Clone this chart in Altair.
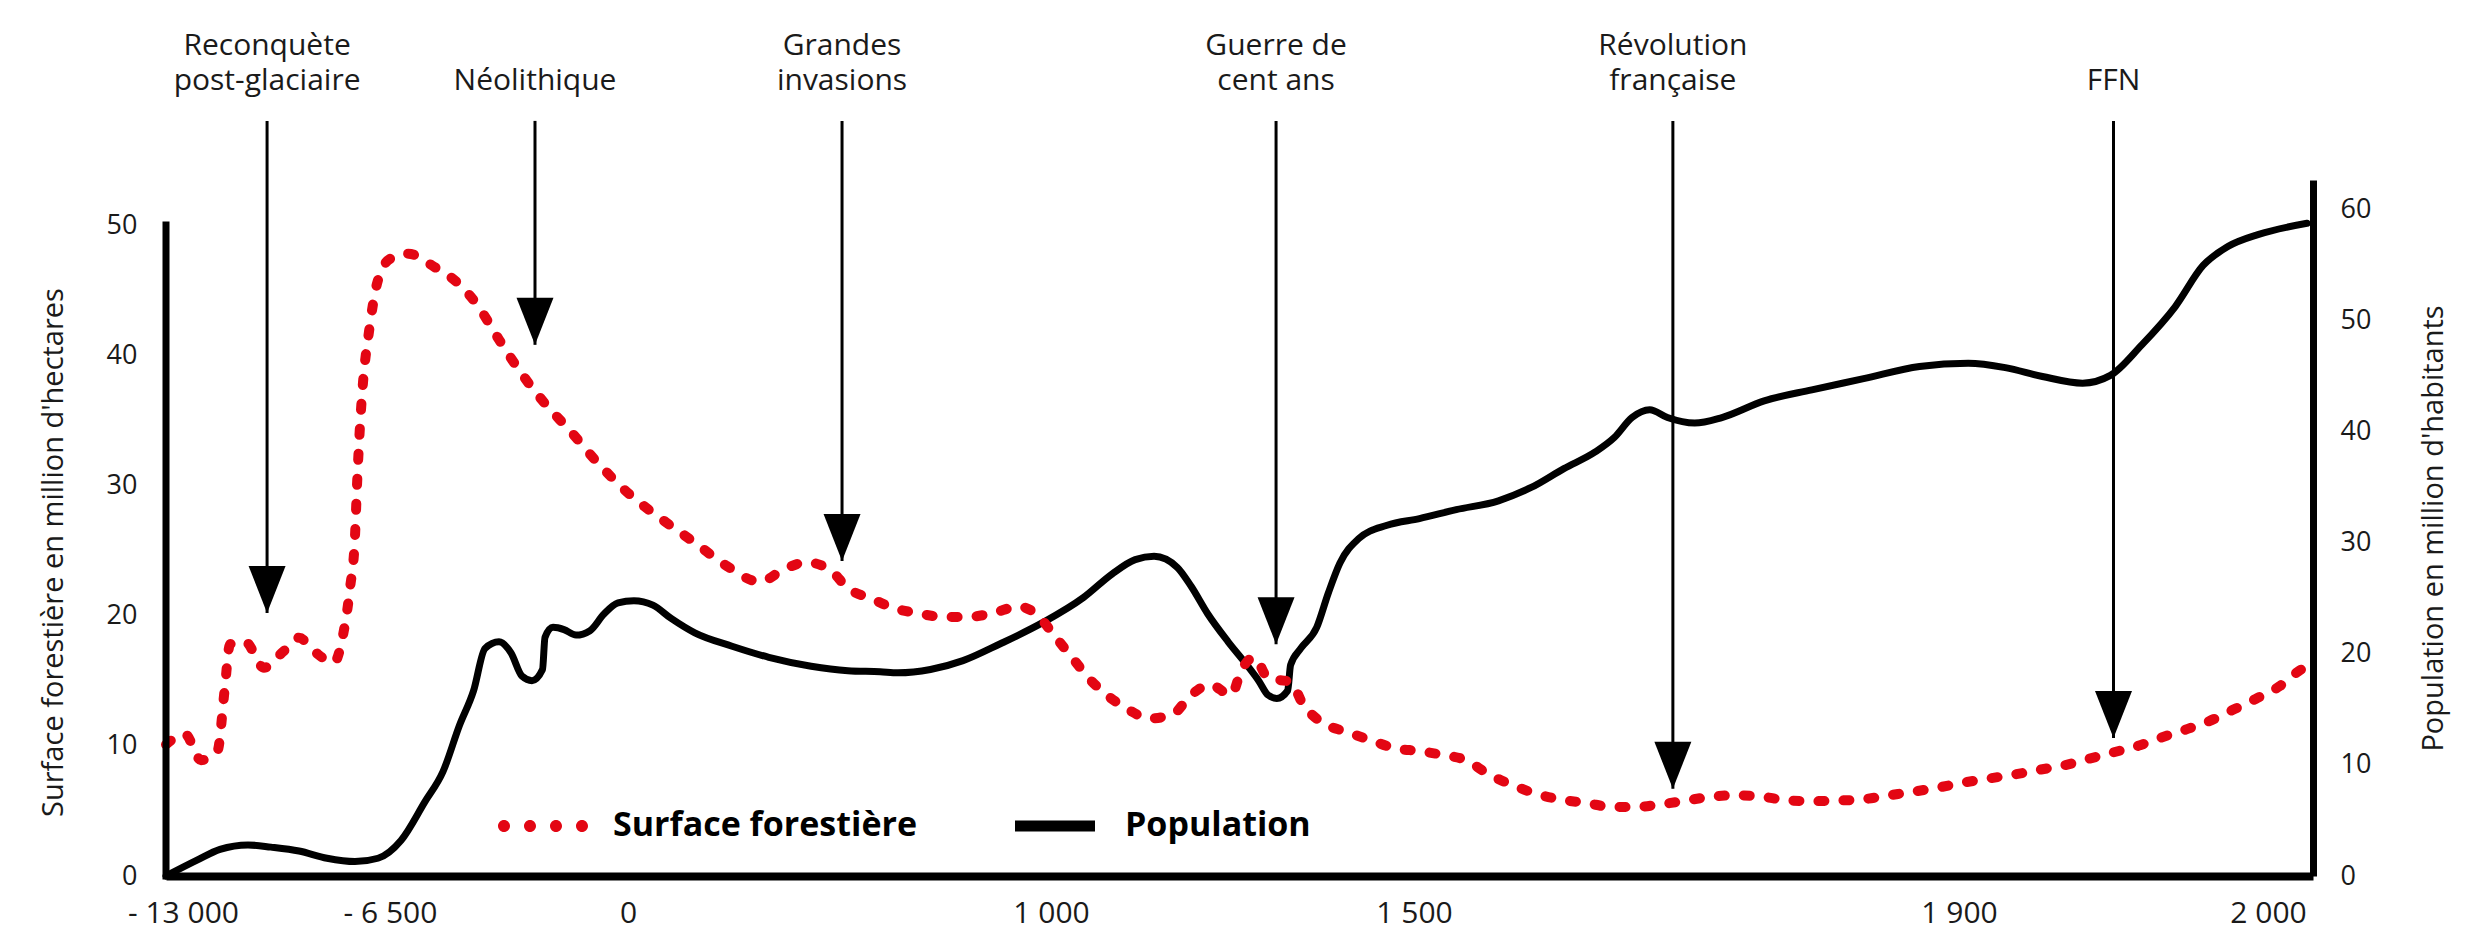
import altair as alt
import pandas as pd

RED = "#e30613"
FONT = "Open Sans"

# ---------------- data ----------------
forest_year = [-13550, -12940, -12435, -11917, -11697, -11524, -11053, -10457, -9869, -9358,
               -8855, -8259, -7976, -7756, -7599, -7536, -7458, -7348, -7160, -6908,
               -6500, -6008, -5298, -4670, -4151, -3523, -2884, -2240, -1612, -847,
               4, 80, 158, 234, 312, 366, 421, 478, 520, 576,
               626, 682, 748, 804, 863, 924, 962, 1007, 1033, 1052,
               1077, 1106, 1135, 1167, 1193, 1219, 1248, 1263, 1280, 1299,
               1330, 1347, 1373, 1405, 1437, 1475, 1504, 1521, 1538, 1555,
               1572, 1590, 1606, 1627, 1645, 1662, 1681, 1700, 1719, 1736,
               1755, 1775, 1794, 1813, 1830, 1849, 1868, 1885, 1902, 1910,
               1918, 1927, 1934, 1942, 1950, 1958, 1965, 1974, 1981, 1989,
               1996, 2004, 2010, 2012]
forest_value = [10.1, 10.9, 8.9, 9.6, 14.2, 17.8, 18.0, 16.0, 17.2, 18.3,
                17.2, 16.4, 18.5, 22.1, 26.1, 30.0, 33.9, 37.9, 41.8, 45.5,
                47.4, 47.8, 46.8, 45.6, 44.0, 41.2, 38.5, 36.2, 34.3, 31.8,
                29.3, 27.4, 25.6, 23.8, 22.6, 23.5, 24.1, 23.5, 22.1, 21.3,
                20.6, 20.2, 19.9, 19.9, 20.2, 20.7, 20.2, 18.3, 16.5, 15.2,
                13.9, 12.8, 12.1, 12.4, 13.9, 14.7, 13.9, 15.9, 16.8, 15.2,
                14.9, 13.2, 11.8, 11.1, 10.5, 9.8, 9.6, 9.3, 8.9, 7.8,
                7.0, 6.3, 5.9, 5.6, 5.3, 5.3, 5.5, 5.8, 6.1, 6.2,
                6.1, 5.8, 5.75, 5.8, 5.9, 6.2, 6.5, 6.8, 7.2, 7.5,
                7.8, 8.2, 8.5, 9.0, 9.5, 10.0, 10.6, 11.3, 11.9, 12.8,
                13.6, 14.6, 15.7, 16.0]

pop_year = [-13550, -12576, -11838, -10959, -10237, -9358, -8478, -7599, -6877, -6200,
            -5544, -5053, -4599, -4217, -3906, -3523, -3195, -2895, -2622, -2335,
            -2267, -2048, -1748, -1420, -1038, -656, -273, 14, 59, 102,
            158, 246, 333, 433, 520, 596, 638, 715, 792, 879,
            979, 1045, 1084, 1116, 1142, 1174, 1193, 1216, 1244, 1270,
            1286, 1299, 1311, 1326, 1330, 1344, 1366, 1382, 1398, 1424,
            1463, 1504, 1531, 1562, 1586, 1610, 1633, 1647, 1660, 1673,
            1686, 1706, 1726, 1757, 1792, 1830, 1871, 1903, 1915, 1927,
            1940, 1949, 1959, 1970, 1979, 1987, 1997, 2013]
pop_value = [0.0, 1.4, 2.4, 2.8, 2.6, 2.25, 1.6, 1.3, 1.6, 3.2,
             6.7, 9.4, 13.6, 16.7, 20.5, 21.1, 20.1, 18.0, 17.6, 18.6,
             21.5, 22.4, 22.2, 21.7, 22.1, 23.6, 24.6, 24.8, 24.4, 23.2,
             21.9, 20.7, 19.7, 18.9, 18.5, 18.4, 18.3, 18.6, 19.4, 20.9,
             22.8, 25.1, 27.2, 28.5, 28.8, 27.8, 26.1, 23.6, 21.1, 19.0,
             17.6, 16.3, 16.0, 16.7, 19.0, 20.5, 22.4, 25.5, 28.2, 30.4,
             31.6, 32.2, 33.0, 33.8, 35.0, 36.7, 38.2, 39.5, 41.3, 42.0,
             41.3, 40.8, 41.3, 42.8, 43.8, 44.8, 45.9, 46.2, 45.8, 45.0,
             44.4, 45.1, 47.8, 51.3, 55.0, 56.7, 57.8, 58.8]

event_labels = ["Reconquète\npost-glaciaire", "Néolithique", "Grandes\ninvasions",
                "Guerre de\ncent ans", "Révolution\nfrançaise", "FFN"]
event_year = [-10360, -2540, 506, 1310, 1690, 1950]
event_tip = [20.2, 40.8, 24.2, 17.8, 6.7, 10.6]        # value each arrow points at (forest scale)
event_top = [58, 58, 58, 58, 58, 58]                    # top of each arrow (forest scale)
event_text = [62.6, 59.9, 62.6, 62.6, 62.6, 59.9]       # first text line (forest scale)

series_names = ["Surface forestière", "Population"]

x_ticks = [-13000, -6500, 0, 1000, 1500, 1900, 2000]
x_tick_labels = ["- 13 000", "- 6 500", "0", "1 000", "1 500", "1 900", "2 000"]
left_ticks = [0, 10, 20, 30, 40, 50]
right_ticks = [0, 10, 20, 30, 40, 50, 60]

# ---------------- tables ----------------
forest_df = pd.DataFrame({"year": forest_year, "value": forest_value})
pop_df = pd.DataFrame({"year": pop_year, "value": pop_value})
events_df = pd.DataFrame({"year": event_year, "tip": event_tip, "top": event_top,
                          "ty": event_text, "label": event_labels})
left_axis_df = pd.DataFrame({"year": [-13550], "lo": [left_ticks[0]], "hi": [left_ticks[-1]]})
legend_df = pd.DataFrame({"series": series_names})

# ---------------- scales ----------------
x_scale = alt.Scale(domain=[-13550, -13000, -6500, 0, 1000, 1500, 1900, 2000, 2015],
                    range=[0, 17, 224, 462, 885, 1248, 1793, 2102, 2147])
y_left = alt.Scale(domain=[0, 53.46], nice=False, zero=False)
y_right = alt.Scale(domain=[0, 62.7], nice=False, zero=False)

label_expr = ("[" + ",".join("'" + t + "'" for t in x_tick_labels) + "][indexof(["
              + ",".join(str(v) for v in x_ticks) + "], datum.value)]")

x_axis = alt.Axis(values=x_ticks, labelExpr=label_expr, grid=False, ticks=False, tickSize=0,
                  domain=True, domainColor="black", domainWidth=8, labelFlush=False,
                  labelOverlap=False, labelPadding=22, labelFontSize=30, labelFont=FONT,
                  labelColor="#1a1a1a", title=None)

left_axis = alt.Axis(orient="left", values=left_ticks, grid=False, ticks=False, tickSize=0,
                     domain=False, labelPadding=29, labelFontSize=27, labelFont=FONT,
                     labelColor="#1a1a1a",
                     title="Surface forestière en million d'hectares",
                     titleFont=FONT, titleFontSize=29, titleFontWeight="normal",
                     titleColor="#1a1a1a", titleAngle=270, titleX=-113, titleY=372,
                     titleAlign="center", titleBaseline="middle")

right_axis = alt.Axis(orient="right", values=right_ticks, grid=False, ticks=False, tickSize=0,
                      domain=True, domainColor="black", domainWidth=7, labelPadding=27,
                      labelFontSize=27, labelFont=FONT, labelColor="#1a1a1a",
                      title="Population en million d'habitants",
                      titleFont=FONT, titleFontSize=29, titleFontWeight="normal",
                      titleColor="#1a1a1a", titleAngle=270, titleX=120, titleY=348,
                      titleAlign="center", titleBaseline="middle")

X = alt.X("year:Q", scale=x_scale, axis=x_axis)


def YL(field):
    return alt.Y(field, scale=y_left, axis=left_axis)


# ---------------- layers ----------------
pop_line = alt.Chart(pop_df).mark_line(
    color="black", strokeWidth=7, interpolate="monotone", strokeJoin="round", strokeCap="round"
).encode(
    x=X,
    y=alt.Y("value:Q", scale=y_right, axis=right_axis),
)

forest_line = alt.Chart(forest_df).mark_line(
    color=RED, strokeWidth=10, strokeDash=[6, 19], strokeCap="round",
    interpolate="monotone"
).encode(x=X, y=YL("value:Q"))

left_domain = alt.Chart(left_axis_df).mark_rule(
    color="black", strokeWidth=7, strokeCap="square"
).encode(x=X, y=YL("lo:Q"), y2="hi:Q")

shafts = alt.Chart(events_df).mark_rule(color="black", strokeWidth=3).encode(
    x=X, y=YL("top:Q"), y2="tip:Q"
)

head_path = "M-0.787,-2 L0.787,-2 L0,0 Z"
heads = alt.Chart(events_df).mark_point(
    shape=head_path, size=2209, filled=True, color="black", opacity=1, strokeWidth=0
).encode(x=X, y=YL("tip:Q"))

labels = alt.Chart(events_df).mark_text(
    font=FONT, fontSize=30, lineBreak="\n", lineHeight=35, align="center",
    baseline="bottom", color="#1a1a1a"
).encode(x=X, y=YL("ty:Q"), text="label:N")

dots_path = " ".join(
    f"M{c - 0.6:.2f},0 A0.6,0.6 0 1,0 {c + 0.6:.2f},0 A0.6,0.6 0 1,0 {c - 0.6:.2f},0 Z"
    for c in (-3.9, -1.3, 1.3, 3.9)
)
bar_path = "M-4,-0.55 L4,-0.55 L4,0.55 L-4,0.55 Z"

legend = alt.Legend(orient="none", legendX=360, legendY=629, direction="horizontal",
                    title=None, padding=0, symbolOpacity=1, symbolSize=400,
                    symbolStrokeWidth=0, labelFont=FONT, labelFontSize=34,
                    labelFontWeight="bold", labelColor="black", labelOffset=53,
                    columnPadding=97, labelLimit=0)

legend_pts = alt.Chart(legend_df).mark_point(filled=True, opacity=0, size=400).encode(
    x=alt.value(0),
    y=alt.value(0),
    color=alt.Color("series:N", scale=alt.Scale(domain=series_names, range=[RED, "black"]),
                    legend=legend),
    shape=alt.Shape("series:N", scale=alt.Scale(domain=series_names, range=[dots_path, bar_path]),
                    legend=legend),
)

left_group = alt.layer(forest_line, left_domain, shafts, heads, labels, legend_pts)

chart = alt.layer(pop_line, left_group).resolve_scale(y="independent").properties(
    width=2147, height=696,
    padding={"left": 158, "top": 172, "right": 150, "bottom": 70},
    autosize=alt.AutoSizeParams(type="none"),
    background="white",
).configure_view(stroke=None)

chart.save("out.html", embed_options={"renderer": "svg", "actions": False})
